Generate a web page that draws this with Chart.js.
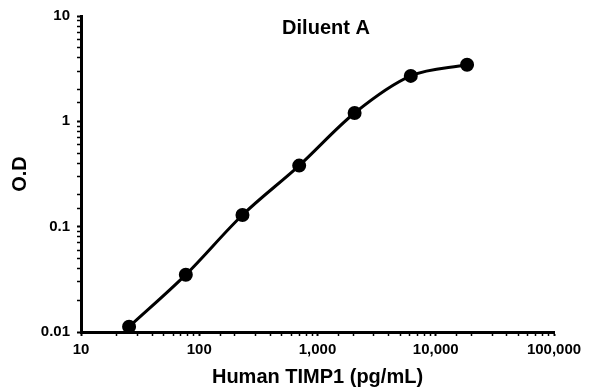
<!DOCTYPE html>
<html>
<head>
<meta charset="utf-8">
<script src="https://cdn.jsdelivr.net/npm/chart.js@4"></script>
<style>
  body { margin: 0; background: #fff; }
  #wrap { width: 596px; height: 392px; }
</style>
</head>
<body>
<div id="wrap"><canvas id="curve"></canvas></div>
<script>
// standard curve readings
const concentration = [25.5, 77, 232, 700, 2060, 6150, 18400];
const odValues = [0.0112, 0.035, 0.129, 0.38, 1.2, 2.7, 3.45];
const xTickLabels = ['10', '100', '1,000', '10,000', '100,000'];
const yTickLabels = ['0.01', '0.1', '1', '10'];

const FONT = "'Liberation Sans', Arial, sans-serif";

const isDecade = v => Math.abs(Math.log10(v) - Math.round(Math.log10(v))) < 1e-6;
const decadeIndex = (v, min) => Math.round(Math.log10(v) - Math.log10(min));

// "Diluent A" sits inside the plot area
const innerTitle = {
    id: 'innerTitle',
    afterDraw(chart) {
        const c = chart.ctx;
        c.save();
        c.font = "bold 20px " + FONT;
        c.fillStyle = '#000';
        c.textAlign = 'center';
        c.textBaseline = 'middle';
        c.fillText('Diluent A', 326, 28);
        c.restore();
    }
};

new Chart(document.getElementById('curve'), {
    type: 'line',
    data: {
        datasets: [{
            label: 'Diluent A',
            data: concentration.map((x, i) => ({ x: x, y: odValues[i] })),
            borderColor: '#000',
            backgroundColor: '#000',
            borderWidth: 3,
            pointRadius: 5.5,
            pointHoverRadius: 5.5,
            cubicInterpolationMode: 'monotone',
            fill: false
        }]
    },
    options: {
        responsive: true,
        maintainAspectRatio: false,
        animation: false,
        layout: { padding: { top: 16, right: 42, bottom: 0, left: 0 } },
        plugins: {
            legend: { display: false },
            tooltip: { enabled: false }
        },
        scales: {
            x: {
                type: 'logarithmic',
                min: 10,
                max: 100000,
                afterFit: s => { s.height = 60; },
                border: { display: true, color: '#000', width: 3 },
                grid: {
                    drawOnChartArea: false,
                    drawTicks: true,
                    tickLength: 4,
                    color: '#000',
                    tickWidth: ctx => (ctx.tick && isDecade(ctx.tick.value)) ? 2 : 1.5
                },
                ticks: {
                    autoSkip: false,
                    maxRotation: 0,
                    padding: 5,
                    color: '#000',
                    font: { family: FONT, size: 15, weight: 'bold' },
                    callback: v => isDecade(v) ? xTickLabels[decadeIndex(v, 10)] : ''
                },
                title: {
                    display: true,
                    text: 'Human TIMP1 (pg/mL)',
                    color: '#000',
                    font: { family: FONT, size: 20, weight: 'bold' },
                    padding: { top: 0, bottom: 3 }
                }
            },
            y: {
                type: 'logarithmic',
                min: 0.01,
                max: 10,
                afterFit: s => { s.width = 81; },
                border: { display: true, color: '#000', width: 3 },
                grid: {
                    drawOnChartArea: false,
                    drawTicks: true,
                    tickLength: 4,
                    color: '#000',
                    tickWidth: ctx => (ctx.tick && isDecade(ctx.tick.value)) ? 2 : 1.5
                },
                ticks: {
                    autoSkip: false,
                    padding: 7,
                    color: '#000',
                    font: { family: FONT, size: 15, weight: 'bold' },
                    callback: v => isDecade(v) ? yTickLabels[decadeIndex(v, 0.01)] : ''
                },
                title: {
                    display: true,
                    text: 'O.D',
                    color: '#000',
                    font: { family: FONT, size: 20, weight: 'bold' },
                    padding: { top: 8, bottom: 0 }
                }
            }
        }
    },
    plugins: [innerTitle]
});
</script>
</body>
</html>
